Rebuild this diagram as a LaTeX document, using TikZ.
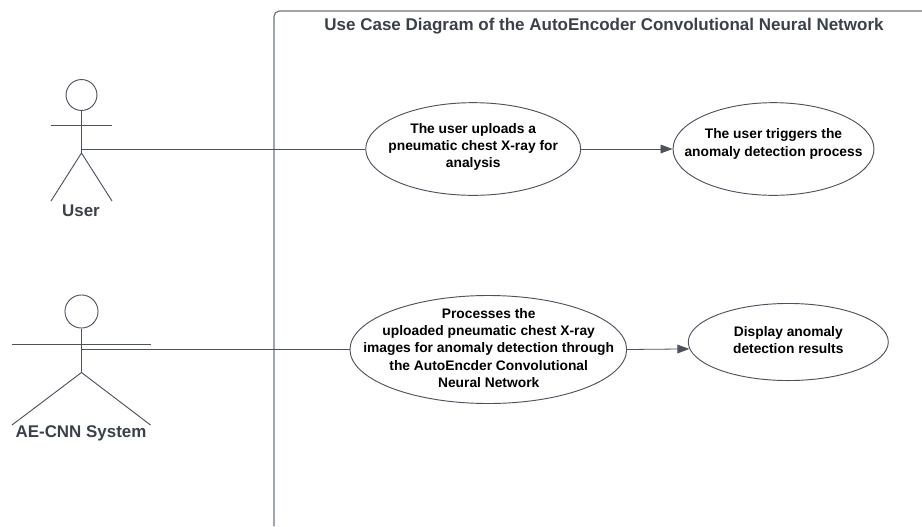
\documentclass[tikz,border=0pt]{standalone}
\usepackage{fontspec}
\setmainfont{Liberation Sans}
\usetikzlibrary{arrows.meta,shapes.geometric}
\definecolor{linegray}{HTML}{4C535D}
\definecolor{framegray}{HTML}{6F7580}
\definecolor{labelgray}{HTML}{3A414A}
\def\pxunit{0.75pt}

\begin{document}
\begin{tikzpicture}[x=\pxunit,y=-\pxunit,draw=linegray,line width=0.7pt]
        \tikzstyle{usecase}=[ellipse,draw=linegray,inner sep=0pt]
        \tikzstyle{casetext}=[align=center,inner sep=0pt,font=\fontsize{10.35}{13}\selectfont\bfseries]
        \tikzstyle{head}=[circle,draw=linegray,inner sep=0pt]
        \tikzstyle{actor label}=[text=labelgray,font=\fontsize{12.7}{15}\selectfont\bfseries]
        \tikzstyle{link}=[draw=linegray,line width=0.6pt]
        \tikzstyle{flow}=[link,-{Triangle[length=9pt,width=6.5pt]}]
        \useasboundingbox (0,0) rectangle (922,526);

        % Draw the system frame
        \draw[framegray,line width=0.9pt,rounded corners=4pt] (274,526) -- (274,11) -- (922,11);
        \node[text=labelgray,font=\fontsize{12.75}{15}\selectfont\bfseries] (title) at (604,26) {Use Case Diagram of the AutoEncoder Convolutional Neural Network};

        % Draw the user actor
        \node[head,minimum size=23.2pt] (userhead) at (81.5,95) {};
        \coordinate (userhand1) at (51,125.5);
        \coordinate (userhand2) at (112,125.5);
        \coordinate (userhip) at (81.5,153);
        \coordinate (userfoot1) at (51,201);
        \coordinate (userfoot2) at (112,201);
        \coordinate (userlink) at (81,149);
        \draw (userhead.south) -- (userhip);
        \draw (userhand1) -- (userhand2);
        \draw (userfoot1) -- (userhip) -- (userfoot2);
        \node[actor label] (userlabel) at (81,210.5) {User};

        % Draw the system actor
        \node[head,minimum size=24.8pt] (syshead) at (81.5,311.5) {};
        \coordinate (syshand1) at (12,344);
        \coordinate (syshand2) at (150.5,344);
        \coordinate (syship) at (81.5,372.5);
        \coordinate (sysfoot1) at (12,425);
        \coordinate (sysfoot2) at (150.5,425);
        \coordinate (syslink) at (81,349.5);
        \draw (syshead.south) -- (syship);
        \draw (syshand1) -- (syshand2);
        \draw (sysfoot1) -- (syship) -- (sysfoot2);
        \node[actor label] (syslabel) at (81,433.5) {AE-CNN System};

        % Draw the use cases
        \node[usecase,minimum width=161.2pt,minimum height=69.5pt] (upload) at (473.2,149) {};
        \node[usecase,minimum width=150.7pt,minimum height=69.5pt] (trigger) at (773.5,149) {};
        \node[usecase,minimum width=207.5pt,minimum height=81pt] (process) at (488.3,349.5) {};
        \node[usecase,minimum width=150pt,minimum height=57.8pt] (display) at (788.3,342) {};

        % Annotate the use cases
        \node[casetext] (uploadtext) at (473.2,147) {The user uploads a\\pneumatic chest X-ray for\\analysis};
        \node[casetext] (triggertext) at (773.5,144) {The user triggers the\\anomaly detection process};
        \node[casetext] (processtext) at (488.7,348) {Processes the\\uploaded pneumatic chest X-ray\\images for anomaly detection through\\the AutoEncder Convolutional\\Neural Network};
        \node[casetext] (displaytext) at (788.3,340) {Display anomaly\\detection results};

        % Connect actors and use cases
        \draw[link] (userlink) -- (upload.west);
        \draw[link] (syslink) -- (process.west);
        \draw[flow] (upload.east) -- (trigger.west);
        \draw[flow] (process.east) -- (display.184.3);
\end{tikzpicture}
\end{document}
